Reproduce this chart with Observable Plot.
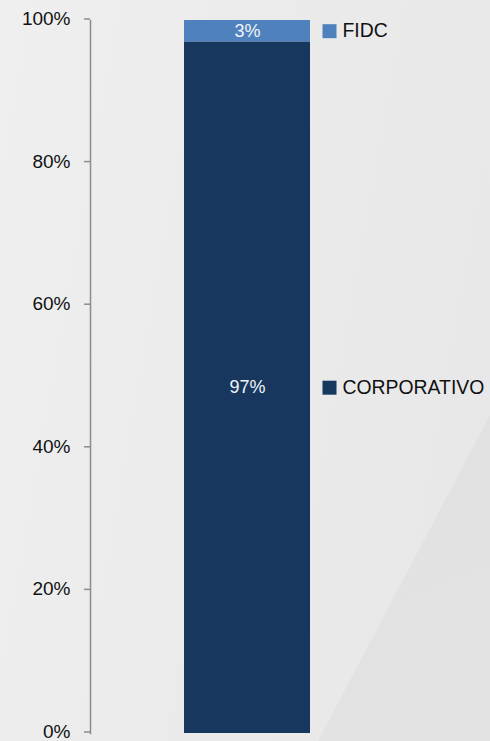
<!DOCTYPE html>
<html>
<head>
<meta charset="utf-8">
<script src="https://cdn.jsdelivr.net/npm/d3@7"></script>
<script src="https://cdn.jsdelivr.net/npm/@observablehq/plot@0.6"></script>
<style>
  html, body { margin: 0; padding: 0; }
  body {
    width: 490px; height: 741px; overflow: hidden; position: relative;
    background: linear-gradient(100deg, #efefef 0%, #ebebeb 45%, #e7e7e9 100%);
    font-family: "Liberation Sans", Arial, sans-serif;
  }
  #shade {
    position: absolute; left: 0; top: 0; width: 490px; height: 741px;
    background: linear-gradient(160deg, #dedede 0%, #e3e3e3 100%);
    clip-path: polygon(490px 415px, 490px 741px, 318px 741px);
  }
  #chart { position: absolute; left: 0; top: 0; }
</style>
</head>
<body>
<div id="shade"></div>
<div id="chart"></div>
<script>
const group = "Carteira";
const categories = ["CORPORATIVO", "FIDC"];
const values = [97, 3];
const yTicks = [0, 20, 40, 60, 80, 100];

const data = categories.map((c, i) => ({group, category: c, value: values[i]}));

const font = "Liberation Sans, Arial, sans-serif";

const chart = Plot.plot({
  width: 490,
  height: 741,
  marginLeft: 90,
  marginRight: 0,
  marginTop: 20,
  marginBottom: 8,
  style: {background: "transparent", fontFamily: font, fontSize: "19px", color: "#111"},
  x: {domain: [group], range: [184, 310], padding: 0, axis: null},
  y: {domain: [0, 100], axis: null},
  color: {domain: categories, range: ["#17375e", "#4f81bd"]},
  marks: [
    Plot.axisY({ticks: yTicks, tickFormat: d => d + "%", tickSize: 6, tickPadding: 14,
      stroke: "#8c8c8c", strokeWidth: 1.5, fill: "#111", fontSize: 19, dy: -1.5, label: null}),
    Plot.frame({anchor: "left", stroke: "#8c8c8c", strokeWidth: 1.5}),
    Plot.barY(data, Plot.stackY({x: "group", y: "value", fill: "category", inset: 0})),
    Plot.text(data, Plot.stackY({x: "group", y: "value", text: d => d.value + "%",
      fill: "#f2f4f8", fontSize: 18})),
    Plot.dot(data, Plot.stackY({x: "group", y: "value", fill: "category",
      symbol: "square", r: 7.9, dx: 82})),
    Plot.text(data, Plot.stackY({x: "group", y: "value", text: "category",
      textAnchor: "start", dx: 95, fill: "#111", fontSize: 19.4}))
  ]
});
document.getElementById("chart").appendChild(chart);
</script>
</body>
</html>
